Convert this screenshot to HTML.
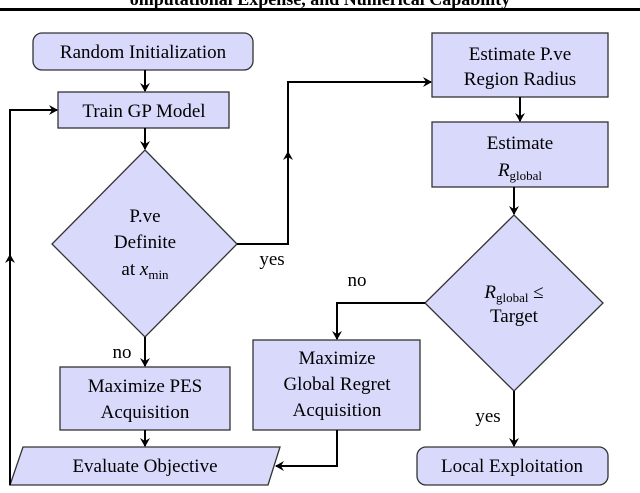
<!DOCTYPE html>
<html><head><style>
body{margin:0;background:#fff;width:640px;height:488px;overflow:hidden}
svg text{font-family:"Liberation Serif",serif;font-size:19px;fill:#000}
</style></head><body>
<svg width="640" height="488" viewBox="0 0 640 488">
<defs><marker id="a" markerWidth="10" markerHeight="10" refX="8" refY="5" orient="auto" markerUnits="userSpaceOnUse"><path d="M0,0 L9,5 L0,10 L3,5 Z" fill="#000"/></marker></defs>
<text x="320" y="5" text-anchor="middle" style="font-weight:bold;font-size:18px">omputational Expense, and Numerical Capability</text>
<rect x="0" y="8" width="640" height="3" fill="#000"/>
<g fill="#d9d9fb" stroke="#333" stroke-width="1.3">
<rect x="33" y="33" width="220" height="37" rx="9"/>
<rect x="58" y="92" width="171" height="36"/>
<polygon points="145,150 237,244 145,337 52,244"/>
<rect x="432" y="33" width="176" height="64"/>
<rect x="432" y="122" width="176" height="65"/>
<polygon points="514,215 603,303 514,391 425,303"/>
<rect x="60" y="367" width="170" height="63"/>
<rect x="253" y="340" width="167" height="90"/>
<polygon points="23,447 280,447 268,485 10,485"/>
<rect x="417" y="447" width="191" height="38" rx="9"/>
</g>
<g stroke="#000" stroke-width="2" fill="none">
<line x1="145" y1="70" x2="145" y2="91" marker-end="url(#a)"/>
<line x1="145" y1="128" x2="145" y2="149" marker-end="url(#a)"/>
<line x1="145" y1="337" x2="145" y2="366" marker-end="url(#a)"/>
<line x1="145" y1="430" x2="145" y2="446" marker-end="url(#a)"/>
<polyline points="10,485 10,110 57,110" marker-end="url(#a)"/>
<line x1="10" y1="300" x2="10" y2="255" marker-end="url(#a)"/>
<polyline points="237,244 288,244 288,82 431,82" marker-end="url(#a)"/>
<line x1="288" y1="200" x2="288" y2="152" marker-end="url(#a)"/>
<line x1="520" y1="97" x2="520" y2="121" marker-end="url(#a)"/>
<line x1="514" y1="187" x2="514" y2="214" marker-end="url(#a)"/>
<polyline points="425,303 337,303 337,339" marker-end="url(#a)"/>
<line x1="514" y1="391" x2="514" y2="446" marker-end="url(#a)"/>
<polyline points="337,430 337,466 276,466" marker-end="url(#a)"/>
</g>
<g text-anchor="middle">
<text x="143" y="58">Random Initialization</text>
<text x="144" y="117">Train GP Model</text>
<text x="145" y="222">P.ve</text>
<text x="145" y="248">Definite</text>
<text x="145" y="275">at <tspan font-style="italic">x</tspan><tspan font-size="13" dy="4">min</tspan></text>
<text x="520" y="60">Estimate P.ve</text>
<text x="520" y="85">Region Radius</text>
<text x="520" y="149">Estimate</text>
<text x="520" y="176"><tspan font-style="italic">R</tspan><tspan font-size="13" dy="4">global</tspan></text>
<text x="514" y="298"><tspan font-style="italic">R</tspan><tspan font-size="13" dy="4">global</tspan><tspan dy="-4"> ≤</tspan></text>
<text x="514" y="322">Target</text>
<text x="145" y="392">Maximize PES</text>
<text x="145" y="418">Acquisition</text>
<text x="337" y="364">Maximize</text>
<text x="337" y="390">Global Regret</text>
<text x="337" y="416">Acquisition</text>
<text x="145" y="472">Evaluate Objective</text>
<text x="512" y="472">Local Exploitation</text>
<text x="272" y="265">yes</text>
<text x="357" y="286">no</text>
<text x="122" y="358">no</text>
<text x="488" y="422">yes</text>
</g>
</svg>
</body></html>
